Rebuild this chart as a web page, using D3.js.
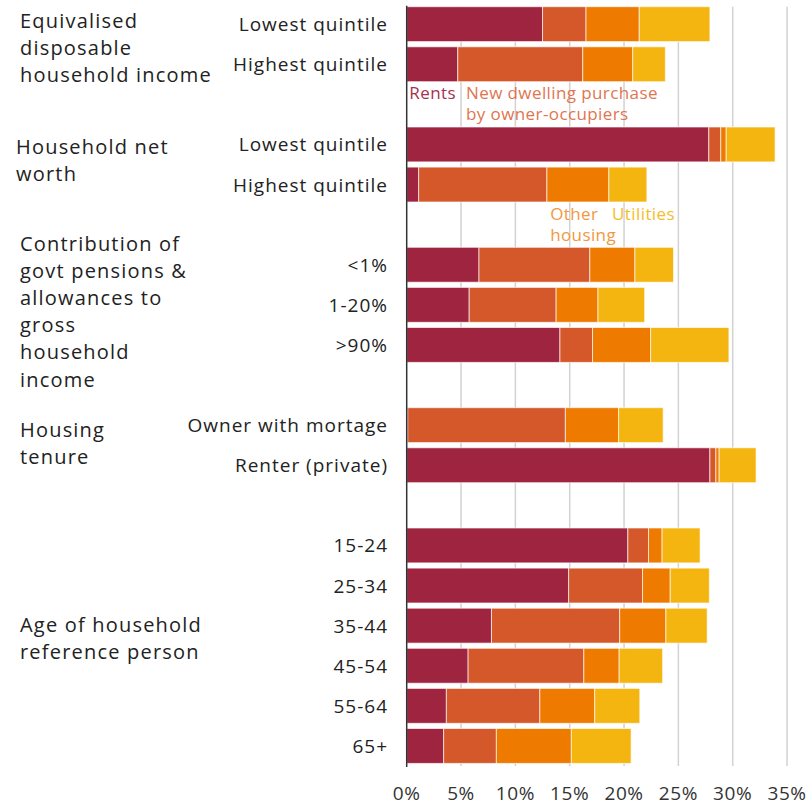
<!DOCTYPE html>
<html>
<head>
<meta charset="utf-8">
<script src="https://cdn.jsdelivr.net/npm/d3@7"></script>
<style>
  html, body { margin: 0; padding: 0; background: #fff; }
  svg text { font-family: "Open Sans", "Noto Sans", sans-serif; }
</style>
</head>
<body>
<svg id="chart" width="809" height="806"></svg>
<script>
// ---- data ----
const rowLabels = ["Lowest quintile","Highest quintile",null,"Lowest quintile","Highest quintile",null,
  "<1%","1-20%",">90%",null,"Owner with mortage","Renter (private)",null,
  "15-24","25-34","35-44","45-54","55-64","65+"];
const seriesNames = ["Rents","New dwelling purchase by owner-occupiers","Other housing","Utilities"];
const rents        = [12.5, 4.7, 27.8, 1.1, 6.65, 5.75, 14.1, 0.1, 27.9, 20.35, 14.9, 7.8, 5.65, 3.65, 3.4];
const newDwelling  = [4.0, 11.5, 1.1, 11.8, 10.2, 8.0, 3.0, 14.5, 0.55, 1.9, 6.8, 11.8, 10.65, 8.6, 4.85];
const otherHousing = [4.9, 4.6, 0.5, 5.7, 4.15, 3.85, 5.35, 4.9, 0.3, 1.25, 2.55, 4.25, 3.25, 5.05, 6.9];
const utilities    = [6.5, 3.0, 4.5, 3.5, 3.55, 4.3, 7.2, 4.1, 3.4, 3.5, 3.6, 3.8, 4.0, 4.15, 5.5];
const tickValues = [0, 5, 10, 15, 20, 25, 30, 35];
const groupLabels = [
  ["Equivalised","disposable","household income"],
  ["Household net","worth"],
  ["Contribution of","govt pensions &","allowances to","gross","household","income"],
  ["Housing","tenure"],
  ["Age of household","reference person"]
];

// ---- styling / layout ----
const colors = ["#9e2440","#d4582a","#ee7a00","#f4b510"];
const textColors = ["#a8304f","#df7550","#f29840","#f5bd2a"];
const svg = d3.select("#chart");
const x0 = 406.7;
const x = d3.scaleLinear().domain([0, 35]).range([x0, x0 + 35 * 10.867]);
const y = d3.scaleBand().domain(d3.range(rowLabels.length)).range([4.1, 766]).paddingInner(0.13).paddingOuter(0.065);

// build rows
const rows = [];
let k = 0;
rowLabels.forEach((lab, i) => {
  if (lab !== null) {
    rows.push({ idx: i, label: lab, Rents: rents[k], New: newDwelling[k], Other: otherHousing[k], Utilities: utilities[k] });
    k++;
  }
});
const keys = ["Rents","New","Other","Utilities"];
const stack = d3.stack().keys(keys)(rows);

// gridlines
const gridTop = y(0), gridBottom = 766;
svg.append("g").selectAll("line").data(tickValues.filter(t => t > 0)).join("line")
  .attr("x1", d => x(d)).attr("x2", d => x(d))
  .attr("y1", gridTop).attr("y2", gridBottom)
  .attr("stroke", "#d2d2d2").attr("stroke-width", 1.5);

// bars
svg.append("g").selectAll("g").data(stack).join("g")
  .attr("fill", (d, i) => colors[i])
  .selectAll("rect").data(d => d).join("rect")
  .attr("x", d => x(d[0]))
  .attr("width", d => Math.max(0, x(d[1]) - x(d[0])))
  .attr("y", d => y(d.data.idx))
  .attr("height", y.bandwidth())
  .attr("stroke", "#ffffff").attr("stroke-opacity", 0.65).attr("stroke-width", 1);

// axis line
svg.append("line").attr("x1", x0).attr("x2", x0).attr("y1", gridTop - 1).attr("y2", gridBottom + 1)
  .attr("stroke", "#333").attr("stroke-width", 1.5);

// x tick labels
svg.append("g").selectAll("text").data(tickValues).join("text")
  .attr("x", d => x(d)).attr("y", 800)
  .attr("text-anchor", "middle").attr("font-size", 19).attr("letter-spacing", 0.6).attr("fill", "#333")
  .text(d => d + "%");

// category labels
svg.append("g").selectAll("text").data(rows).join("text")
  .attr("x", 388).attr("y", d => y(d.idx) + y.bandwidth() / 2 + 7)
  .attr("text-anchor", "end").attr("font-size", 19).attr("letter-spacing", 1).attr("fill", "#222")
  .text(d => d.label);

// group labels
const groupPos = [[20, 27.5], [16, 154], [20, 250.5], [20, 436.7], [20, 631.7]];
groupLabels.forEach((lines, g) => {
  const t = svg.append("text").attr("x", groupPos[g][0]).attr("y", groupPos[g][1])
    .attr("font-size", 20).attr("letter-spacing", 1.2).attr("fill", "#222");
  lines.forEach((ln, j) => t.append("tspan").attr("x", groupPos[g][0]).attr("dy", j === 0 ? 0 : 27.2).text(ln));
});

// series annotations
const ann = [
  { s: 0, v: 0.24, yb: 98.5, lines: ["Rents"] },
  { s: 1, v: 5.46, yb: 98.5, lines: ["New dwelling purchase","by owner-occupiers"] },
  { s: 2, v: 13.2, yb: 220, lines: ["Other","housing"] },
  { s: 3, v: 18.9, yb: 220, lines: ["Utilities"] }
];
ann.forEach(a => {
  const t = svg.append("text").attr("x", x(a.v)).attr("y", a.yb)
    .attr("font-size", 17).attr("letter-spacing", 0.4).attr("fill", textColors[a.s]);
  a.lines.forEach((ln, j) => t.append("tspan").attr("x", x(a.v)).attr("dy", j === 0 ? 0 : 21).text(ln));
});
</script>
</body>
</html>
